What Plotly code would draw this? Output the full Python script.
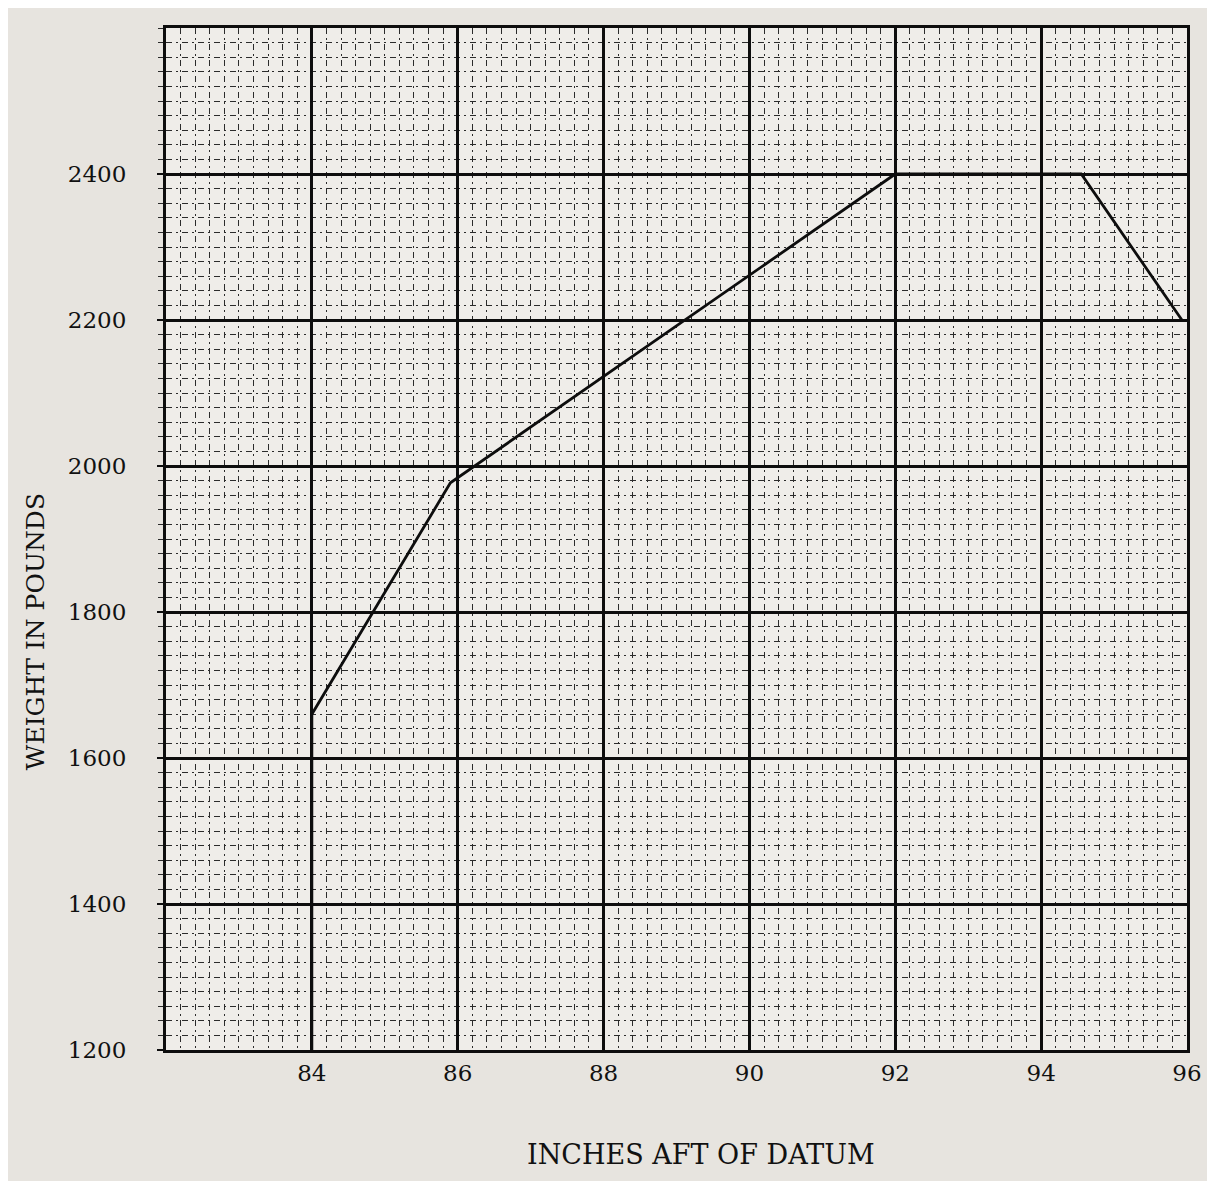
import plotly.graph_objects as go

# Envelope (inches aft of datum, weight in pounds)
arm_in = [84.0, 84.0, 85.9, 92.0, 94.55, 95.93]
weight_lb = [1200, 1660, 1977, 2400, 2400, 2200]

x_tickvals = [84, 86, 88, 90, 92, 94, 96]
y_tickvals = [1200, 1400, 1600, 1800, 2000, 2200, 2400]

FONT = "DejaVu Serif"

fig = go.Figure()
fig.add_trace(go.Scatter(
    x=arm_in, y=weight_lb, mode="lines",
    line=dict(color="#0d0d0d", width=2.8),
    hoverinfo="skip", showlegend=False,
))

minor_grid = dict(showgrid=True, gridcolor="#2b2b2b", gridwidth=1.3,
                  griddash="6px,4px,2px,4px")

fig.update_xaxes(
    range=[82, 96], tickmode="array", tickvals=x_tickvals,
    ticktext=[str(v) for v in x_tickvals],
    showgrid=True, gridcolor="#0d0d0d", gridwidth=2.8,
    showline=True, linecolor="#0d0d0d", linewidth=3, mirror=True,
    ticks="", zeroline=False, automargin=False,
    tickfont=dict(family=FONT, size=23, color="#111111"),
    minor=dict(tick0=82, dtick=0.2, **minor_grid),
)
fig.update_yaxes(
    range=[1200, 2600], tickmode="array", tickvals=y_tickvals,
    ticktext=[str(v) for v in y_tickvals],
    showgrid=True, gridcolor="#0d0d0d", gridwidth=2.8,
    showline=True, linecolor="#0d0d0d", linewidth=3, mirror=True,
    ticks="outside", ticklen=6, tickwidth=2, tickcolor="#0d0d0d",
    ticklabelstandoff=26, zeroline=False, automargin=False,
    tickfont=dict(family=FONT, size=23, color="#111111"),
    minor=dict(tick0=1200, dtick=20, ticks="outside", ticklen=5,
               tickwidth=1.4, tickcolor="#2b2b2b", **minor_grid),
)

fig.update_layout(
    width=1199, height=1173,
    margin=dict(l=158, r=20, t=20, b=131),
    paper_bgcolor="#e7e4df", plot_bgcolor="#efede9",
    showlegend=False,
    annotations=[
        dict(text="INCHES AFT OF DATUM", xref="paper", yref="paper",
             x=0.524, y=-0.1027, xanchor="center", yanchor="middle",
             showarrow=False,
             font=dict(family=FONT, size=27, color="#111111")),
        dict(text="WEIGHT IN POUNDS", xref="paper", yref="paper",
             x=-0.128, y=0.409, xanchor="center", yanchor="middle",
             textangle=-90, showarrow=False,
             font=dict(family=FONT, size=25, color="#111111")),
    ],
)

fig.write_html("out.html")
